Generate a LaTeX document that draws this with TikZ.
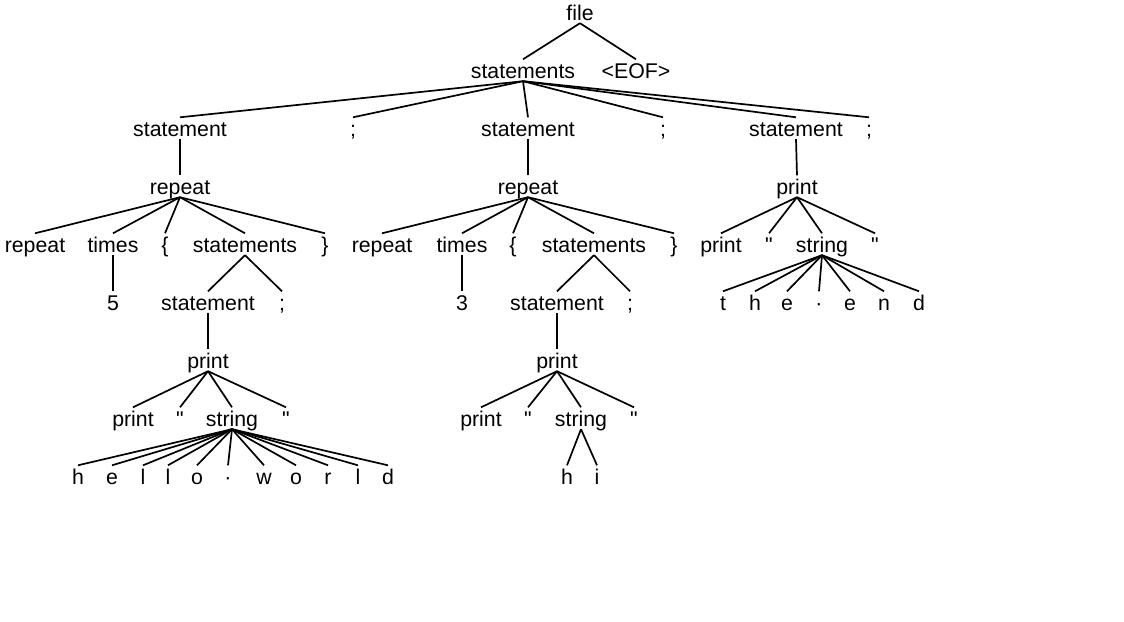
\documentclass[tikz,border=0pt]{standalone}
\usepackage{fontspec}
\setmainfont{Liberation Sans}
\usepackage{tikz}

\begin{document}
\begin{tikzpicture}[x=1pt, y=-1pt,
  tok/.style={anchor=base, inner sep=0pt, text height=18.5pt, text depth=3pt, font=\fontsize{21.3}{25}\selectfont},
  branch/.style={line width=1.7pt}
]
  \useasboundingbox (0,0) rectangle (1124,621);

  % top levels
  \node[tok] (file) at (580,20) {file};
  \node[tok] (stmts) at (523,78) {statements};
  \node[tok] (eof) at (636,78) {<EOF>};

  \node[tok] (s1) at (180,136) {statement};
  \node[tok] (semi1) at (353,136) {;};
  \node[tok] (s2) at (528,136) {statement};
  \node[tok] (semi2) at (663,136) {;};
  \node[tok] (s3) at (796,136) {statement};
  \node[tok] (semi3) at (869,136) {;};

  \node[tok] (rep1) at (180,194) {repeat};
  \node[tok] (rep2) at (528,194) {repeat};
  \node[tok] (pr3) at (797,194) {print};

  % first repeat
  \node[tok] (rkw1) at (35,252) {repeat};
  \node[tok] (times1) at (113,252) {times};
  \node[tok] (lb1) at (165,252) {\{};
  \node[tok] (stmts1) at (245,252) {statements};
  \node[tok] (rb1) at (325,252) {\}};
  \node[tok] (n1) at (113,310) {5};
  \node[tok] (s11) at (208,310) {statement};
  \node[tok] (semi11) at (282,310) {;};
  \node[tok] (pr1) at (208,368) {print};
  \node[tok] (pkw1) at (133,426) {print};
  \node[tok] (q1a) at (180,426) {\textquotedbl};
  \node[tok] (str1) at (232,426) {string};
  \node[tok] (q1b) at (286,426) {\textquotedbl};

  % second repeat
  \node[tok] (rkw2) at (382,252) {repeat};
  \node[tok] (times2) at (462,252) {times};
  \node[tok] (lb2) at (513,252) {\{};
  \node[tok] (stmts2) at (594,252) {statements};
  \node[tok] (rb2) at (674,252) {\}};
  \node[tok] (n2) at (462,310) {3};
  \node[tok] (s21) at (557,310) {statement};
  \node[tok] (semi21) at (630,310) {;};
  \node[tok] (pr2) at (557,368) {print};
  \node[tok] (pkw2) at (481,426) {print};
  \node[tok] (q2a) at (528,426) {\textquotedbl};
  \node[tok] (str2) at (581,426) {string};
  \node[tok] (q2b) at (634,426) {\textquotedbl};

  % third statement
  \node[tok] (pkw3) at (721,252) {print};
  \node[tok] (q3a) at (769,252) {\textquotedbl};
  \node[tok] (str3) at (822,252) {string};
  \node[tok] (q3b) at (875,252) {\textquotedbl};

  \foreach \p/\c in {file/stmts, file/eof,
      stmts/s1, stmts/semi1, stmts/s2, stmts/semi2, stmts/s3, stmts/semi3,
      s1/rep1, s2/rep2, s3/pr3,
      rep1/rkw1, rep1/times1, rep1/lb1, rep1/stmts1, rep1/rb1,
      times1/n1, stmts1/s11, stmts1/semi11, s11/pr1,
      pr1/pkw1, pr1/q1a, pr1/str1, pr1/q1b,
      rep2/rkw2, rep2/times2, rep2/lb2, rep2/stmts2, rep2/rb2,
      times2/n2, stmts2/s21, stmts2/semi21, s21/pr2,
      pr2/pkw2, pr2/q2a, pr2/str2, pr2/q2b,
      pr3/pkw3, pr3/q3a, pr3/str3, pr3/q3b} {
    \draw[branch] (\p.south) -- (\c.north);
  }

  % string characters
  \foreach \ch/\x [count=\i] in {h/78, e/112, l/143, l/168, o/197, {·}/228, w/264, o/296, r/328, l/358, d/388} {
    \node[tok] (hw\i) at (\x,484) {\ch};
    \draw[branch] (str1.south) -- (hw\i.north);
  }
  \foreach \ch/\x [count=\i] in {h/567, i/597} {
    \node[tok] (hi\i) at (\x,484) {\ch};
    \draw[branch] (str2.south) -- (hi\i.north);
  }
  \foreach \ch/\x [count=\i] in {t/723, h/755, e/787, {·}/819, e/850, n/884, d/919} {
    \node[tok] (te\i) at (\x,310) {\ch};
    \draw[branch] (str3.south) -- (te\i.north);
  }
\end{tikzpicture}
\end{document}
